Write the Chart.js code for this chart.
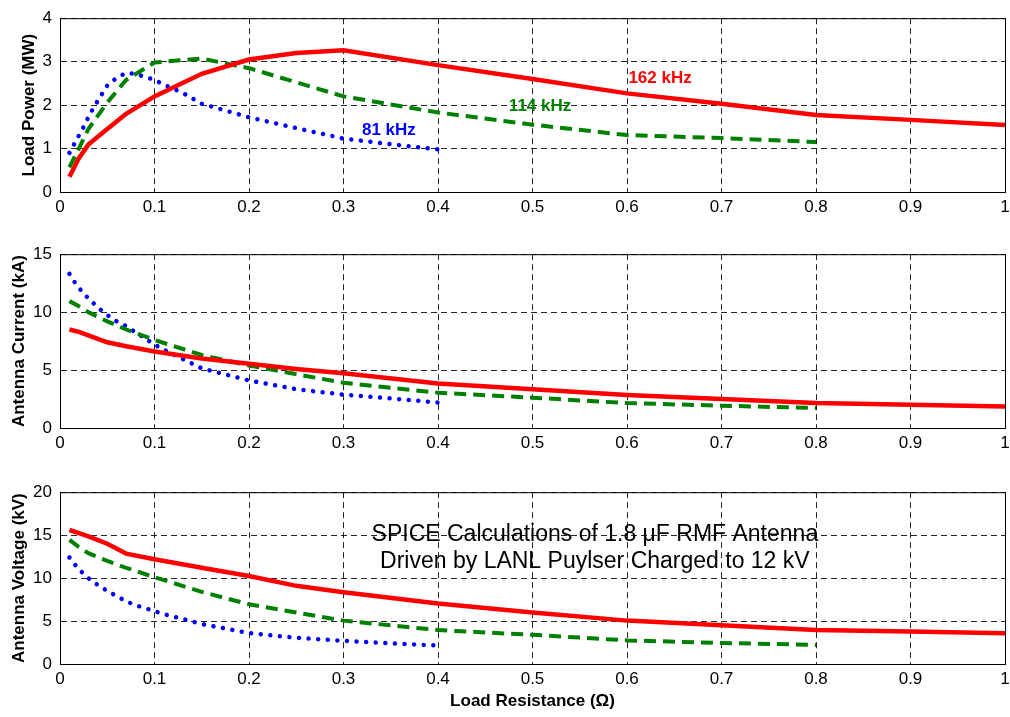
<!DOCTYPE html>
<html lang="en">
  <head>
    <meta charset="UTF-8" />
    <title>SPICE Calculations of 1.8 μF RMF Antenna</title>
    <script src="https://cdn.jsdelivr.net/npm/chart.js"></script>
    <style>
      body {
        margin: 0;
        background: #fff;
        width: 1010px;
        height: 717px;
        position: relative;
        overflow: hidden;
      }
      .panel {
        position: absolute;
        left: 0;
      }
    </style>
  </head>
  <body>
    <div class="panel" style="top: 0px"><canvas id="powerChart" width="1010" height="230"></canvas></div>
    <div class="panel" style="top: 236px"><canvas id="currentChart" width="1010" height="230"></canvas></div>
    <div class="panel" style="top: 474px"><canvas id="voltageChart" width="1010" height="243"></canvas></div>

    <script>
      // load resistance (ohm) for each drive frequency
      const xRed = [0.01, 0.02, 0.03, 0.05, 0.07, 0.1, 0.15, 0.2, 0.25, 0.3, 0.4, 0.5, 0.6, 0.7, 0.8, 0.9, 1.0];
      const xGreen = [0.01, 0.02, 0.03, 0.05, 0.07, 0.1, 0.15, 0.2, 0.3, 0.4, 0.5, 0.6, 0.7, 0.8];
      const xBlue = [0.01, 0.015, 0.02, 0.025, 0.03, 0.035, 0.04, 0.05, 0.06, 0.07, 0.08, 0.09, 0.1, 0.11, 0.13, 0.15, 0.2, 0.25, 0.3, 0.35, 0.4];

      // load power (MW)
      const powerRed = [0.35, 0.78, 1.09, 1.45, 1.8, 2.2, 2.72, 3.05, 3.2, 3.26, 2.92, 2.6, 2.27, 2.03, 1.77, 1.66, 1.54];
      const powerGreen = [0.57, 1.0, 1.45, 2.06, 2.58, 2.98, 3.07, 2.85, 2.2, 1.83, 1.55, 1.31, 1.24, 1.15];
      const powerBlue = [0.9, 1.1, 1.3, 1.5, 1.72, 1.92, 2.1, 2.45, 2.63, 2.74, 2.72, 2.65, 2.58, 2.47, 2.28, 2.03, 1.72, 1.47, 1.23, 1.1, 0.98];

      // antenna current (kA)
      const currentRed = [8.5, 8.3, 8.0, 7.4, 7.05, 6.6, 6.0, 5.55, 5.1, 4.72, 3.85, 3.35, 2.85, 2.5, 2.15, 2.0, 1.85];
      const currentGreen = [10.95, 10.5, 10.0, 9.2, 8.5, 7.6, 6.3, 5.4, 3.9, 3.05, 2.62, 2.15, 1.93, 1.72];
      const currentBlue = [13.3, 12.65, 12.1, 11.6, 11.2, 10.8, 10.4, 9.75, 9.2, 8.8, 8.25, 7.75, 7.2, 6.75, 5.95, 5.15, 4.1, 3.35, 2.88, 2.55, 2.2];

      // antenna voltage (kV)
      const voltageRed = [15.6, 15.23, 14.86, 14.0, 12.85, 12.2, 11.2, 10.25, 9.1, 8.35, 7.05, 6.0, 5.05, 4.5, 3.95, 3.77, 3.58];
      const voltageGreen = [14.45, 13.6, 12.9, 12.0, 11.2, 10.1, 8.4, 6.95, 5.05, 3.95, 3.4, 2.75, 2.45, 2.22];
      const voltageBlue = [12.4, 11.7, 11.0, 10.5, 10.0, 9.6, 9.2, 8.5, 7.9, 7.3, 6.85, 6.5, 6.15, 5.8, 5.25, 4.65, 3.6, 3.05, 2.7, 2.4, 2.15];

      const xTicks = [0, 0.1, 0.2, 0.3, 0.4, 0.5, 0.6, 0.7, 0.8, 0.9, 1];

      Chart.defaults.font.family = "Arial, 'Liberation Sans', Helvetica, sans-serif";
      Chart.defaults.font.size = 17;
      Chart.defaults.color = "#000";
      Chart.defaults.animation = false;

      function pairs(xs, ys) {
        return xs.map((x, i) => ({ x: x, y: ys[i] }));
      }

      function makeSeries(red, green, blue) {
        return [
          {
            label: "162 kHz",
            data: pairs(xRed, red),
            borderColor: "#ff0000",
            borderWidth: 4.5,
          },
          {
            label: "114 kHz",
            data: pairs(xGreen, green),
            borderColor: "#008000",
            borderWidth: 4,
            borderDash: [12, 7],
          },
          {
            label: "81 kHz",
            data: pairs(xBlue, blue),
            borderColor: "#0000ff",
            borderWidth: 4.5,
            borderDash: [0.01, 9.6],
            borderCapStyle: "round",
          },
        ];
      }

      // box around the plot area, like the matlab axes
      const frame = {
        id: "frame",
        afterDraw(chart) {
          const a = chart.chartArea;
          const ctx = chart.ctx;
          ctx.save();
          ctx.strokeStyle = "#000";
          ctx.lineWidth = 1;
          ctx.strokeRect(a.left + 0.5, a.top + 0.5, a.right - a.left, a.bottom - a.top);
          ctx.restore();
        },
      };

      function notesPlugin(notes) {
        return {
          id: "notes",
          afterDatasetsDraw(chart) {
            const ctx = chart.ctx;
            const xs = chart.scales.x;
            const ys = chart.scales.y;
            ctx.save();
            ctx.textAlign = "center";
            ctx.textBaseline = "middle";
            notes.forEach((n) => {
              ctx.font = n.font;
              ctx.fillStyle = n.color;
              ctx.fillText(n.text, xs.getPixelForValue(n.x), ys.getPixelForValue(n.y));
            });
            ctx.restore();
          },
        };
      }

      function makeChart(id, yTitle, titlePad, yMax, yStep, datasets, notes, xTitle, xHeight) {
        const ctx = document.getElementById(id).getContext("2d");
        return new Chart(ctx, {
          type: "line",
          data: { datasets: datasets },
          options: {
            responsive: false,
            layout: { padding: { top: 13, right: 5, left: 0, bottom: 0 } },
            elements: {
              point: { radius: 0 },
              line: { tension: 0, fill: false },
            },
            plugins: {
              legend: { display: false },
              tooltip: { enabled: false },
            },
            scales: {
              x: {
                type: "linear",
                min: 0,
                max: 1,
                afterBuildTicks: (s) => {
                  s.ticks = xTicks.map((v) => ({ value: v }));
                },
                afterFit: (s) => {
                  s.height = xHeight;
                  s.paddingLeft = 0;
                  s.paddingRight = 0;
                },
                ticks: {
                  padding: 5,
                  maxRotation: 0,
                  autoSkip: false,
                  callback: (v) => String(v),
                },
                grid: { color: "rgba(0,0,0,0.85)", drawTicks: false },
                border: { color: "#000", dash: [6, 4] },
                title: {
                  display: !!xTitle,
                  text: xTitle,
                  font: { weight: "bold", size: 17 },
                  padding: { top: 0, bottom: 5 },
                },
              },
              y: {
                min: 0,
                max: yMax,
                ticks: { stepSize: yStep, padding: 8 },
                afterFit: (s) => {
                  s.width = 60;
                },
                grid: { color: "rgba(0,0,0,0.85)", drawTicks: false },
                border: { color: "#000", dash: [6, 4] },
                title: {
                  display: true,
                  text: yTitle,
                  font: { weight: "bold", size: 17 },
                  padding: { top: titlePad, bottom: 0 },
                },
              },
            },
          },
          plugins: [frame, notesPlugin(notes)],
        });
      }

      const labelFont = "bold 17px Arial, 'Liberation Sans', sans-serif";
      const noteFont = "23px Arial, 'Liberation Sans', sans-serif";

      makeChart(
        "powerChart",
        "Load Power (MW)",
        19,
        4,
        1,
        makeSeries(powerRed, powerGreen, powerBlue),
        [
          { text: "162 kHz", x: 0.635, y: 2.61, color: "#ff0000", font: labelFont },
          { text: "114 kHz", x: 0.508, y: 1.97, color: "#008000", font: labelFont },
          { text: "81 kHz", x: 0.348, y: 1.43, color: "#0000ff", font: labelFont },
        ],
        "",
        38
      );

      makeChart(
        "currentChart",
        "Antenna Current (kA)",
        9,
        15,
        5,
        makeSeries(currentRed, currentGreen, currentBlue),
        [],
        "",
        38
      );

      makeChart(
        "voltageChart",
        "Antenna Voltage (kV)",
        9,
        20,
        5,
        makeSeries(voltageRed, voltageGreen, voltageBlue),
        [
          { text: "SPICE Calculations of 1.8 μF RMF Antenna", x: 0.566, y: 15.1, color: "#000", font: noteFont },
          { text: "Driven by LANL Puylser Charged to 12 kV", x: 0.566, y: 11.9, color: "#000", font: noteFont },
        ],
        "Load Resistance (Ω)",
        53
      );
    </script>
  </body>
</html>
